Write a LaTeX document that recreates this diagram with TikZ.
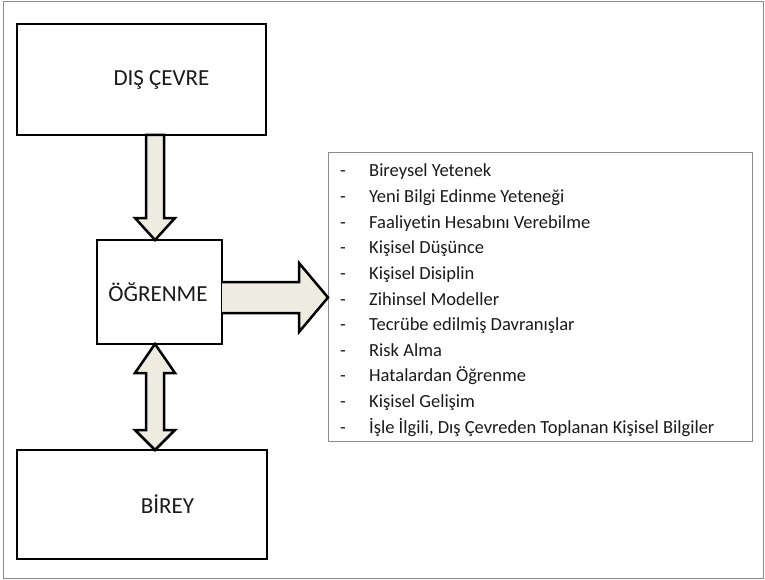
\documentclass[tikz,border=0pt]{standalone}
\usepackage{fontspec}
\setmainfont{Carlito}[Ligatures={NoCommon}]
\definecolor{arrowfill}{HTML}{EEECE1}
\definecolor{framegray}{HTML}{8C8C8C}
\definecolor{inkcol}{HTML}{1A1A1A}
\tikzset{
  mainbox/.style={draw=black, line width=2.6pt, fill=white, inner sep=0pt},
  boxlabel/.style={inner sep=0pt, anchor=base, text=inkcol, font=\fontsize{23}{27}\selectfont},
  listbox/.style={draw=framegray, line width=1pt, fill=white, inner sep=0pt},
  item/.style={inner sep=0pt, anchor=base west, text=inkcol, font=\fontsize{18.5}{22}\selectfont},
  blockarrow/.style={draw=black, line width=2.5pt, fill=arrowfill, line join=miter}
}
\begin{document}
\begin{tikzpicture}[x=1pt,y=-1pt]
  % canvas and outer frame
  \useasboundingbox (0,0) rectangle (765,580);
  \fill[white] (0,0) rectangle (765,580);
  \draw[framegray, line width=1pt] (3.5,1.5) rectangle (763,578);

  % main boxes
  \node[mainbox, minimum width=249pt, minimum height=111pt] (dis) at (141.5,79.5) {};
  \node[mainbox, minimum width=125pt, minimum height=104pt] (ogr) at (159.5,292) {};
  \node[mainbox, minimum width=250pt, minimum height=109pt] (bir) at (142,504.5) {};

  \node[boxlabel] (distext) at (161.5,86) {DIŞ ÇEVRE};
  \node[boxlabel] (ogrtext) at (158,301.5) {ÖĞRENME};
  \node[boxlabel] (birtext) at (167.5,513) {BİREY};

  % list of learning components
  \node[listbox, minimum width=424pt, minimum height=288pt] (list) at (540,297) {};
  \foreach \t [count=\i] in {
      Bireysel Yetenek,
      Yeni Bilgi Edinme Yeteneği,
      Faaliyetin Hesabını Verebilme,
      Kişisel Düşünce,
      Kişisel Disiplin,
      Zihinsel Modeller,
      Tecrübe edilmiş Davranışlar,
      Risk Alma,
      Hatalardan Öğrenme,
      Kişisel Gelişim,
      {İşle İlgili, Dış Çevreden Toplanan Kişisel Bilgiler}}
    \node[item] (it\i) at (340,{177+(\i-1)*25.6}) {\makebox[29pt][l]{-}\t};

  % block arrow: environment -> learning
  \draw[blockarrow] (146,135) -- (164,135) -- (164,218) -- (175,218)
    -- (155,240) -- (135,218) -- (146,218) -- cycle;

  % block arrow: learning -> components
  \draw[blockarrow] (222,282) -- (299,282) -- (299,263) -- (328,297.5)
    -- (299,332) -- (299,313) -- (222,313);

  % double block arrow: learning <-> individual
  \draw[blockarrow] (155,344) -- (175,373) -- (164,373) -- (164,430)
    -- (175,430) -- (155,450) -- (135,430) -- (146,430) -- (146,373)
    -- (135,373) -- cycle;
\end{tikzpicture}
\end{document}
